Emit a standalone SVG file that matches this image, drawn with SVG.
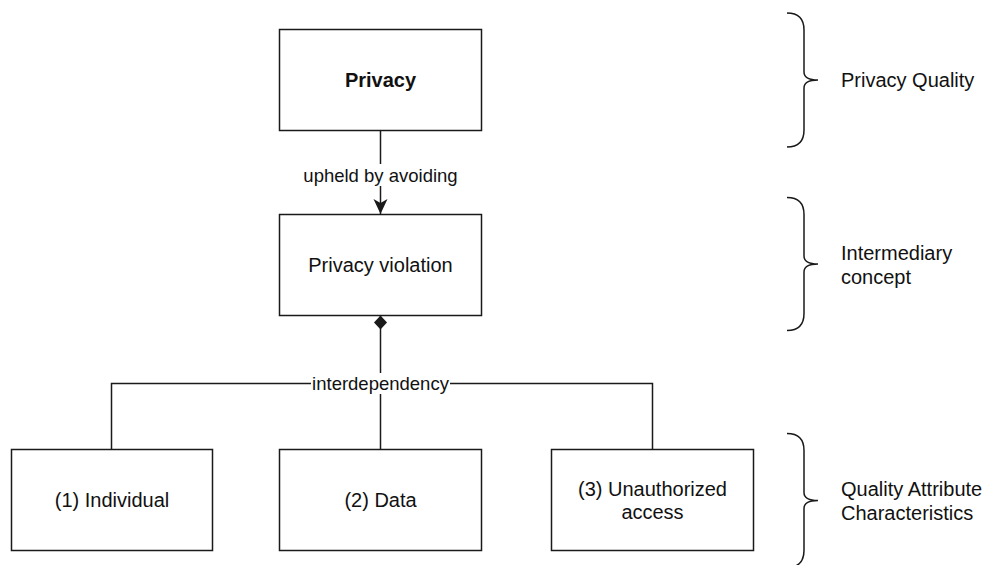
<svg xmlns="http://www.w3.org/2000/svg" width="988" height="565" viewBox="0 0 988 565">
  <style>
    .box { fill: #ffffff; stroke: #1a1a1a; stroke-width: 1.5; }
    .edge { fill: none; stroke: #1a1a1a; stroke-width: 1.5; }
    .brace { fill: none; stroke: #1a1a1a; stroke-width: 1.5; }
    text { font-family: "Liberation Sans", Arial, sans-serif; font-size: 20px; fill: #111111; }
    .c { text-anchor: middle; dominant-baseline: central; }
    .l { text-anchor: start; dominant-baseline: central; }
    .bold { font-weight: bold; }
    .edge-label { font-size: 18.5px; }
    .lbl { fill: #ffffff; stroke: none; }
  </style>
  <defs>
    <marker id="arrow" markerWidth="16" markerHeight="16" refX="15" refY="7" orient="auto" markerUnits="userSpaceOnUse">
      <path d="M0,0 L15,7 L0,14 L4,7 Z" fill="#1a1a1a"/>
    </marker>
    <marker id="diamond" markerWidth="16" markerHeight="14" refX="15" refY="6.5" orient="auto" markerUnits="userSpaceOnUse">
      <path d="M1,6.5 L8,0 L15,6.5 L8,13 Z" fill="#1a1a1a"/>
    </marker>
  </defs>

  <!-- connectors -->
  <g id="connectors">
    <path class="edge" d="M380.5,130.5 L380.5,214" marker-end="url(#arrow)"/>
    <rect class="lbl" x="301" y="164" width="159" height="22"/>
    <text class="c edge-label" x="380.5" y="175">upheld by avoiding</text>

    <path class="edge" d="M380.5,449.5 L380.5,315.5" marker-end="url(#diamond)"/>
    <path class="edge" d="M111.5,449.5 L111.5,383.5 L652.5,383.5 L652.5,449.5"/>
    <rect class="lbl" x="311" y="373" width="139" height="21"/>
    <text class="c edge-label" x="380.5" y="383">interdependency</text>
  </g>

  <!-- nodes -->
  <g id="privacy">
    <rect class="box" x="279.5" y="29.5" width="202" height="101"/>
    <text class="c bold" x="380.5" y="80">Privacy</text>
  </g>
  <g id="privacy-violation">
    <rect class="box" x="279.5" y="214.5" width="202" height="101"/>
    <text class="c" x="380.5" y="265">Privacy violation</text>
  </g>
  <g id="individual">
    <rect class="box" x="11.5" y="449.5" width="201" height="101"/>
    <text class="c" x="112" y="500">(1) Individual</text>
  </g>
  <g id="data">
    <rect class="box" x="279.5" y="449.5" width="202" height="101"/>
    <text class="c" x="380.5" y="500">(2) Data</text>
  </g>
  <g id="unauthorized-access">
    <rect class="box" x="551.5" y="449.5" width="202" height="101"/>
    <text class="c" x="652.5" y="489">(3) Unauthorized</text>
    <text class="c" x="652.5" y="512">access</text>
  </g>

  <!-- level braces -->
  <g id="level-quality">
    <path class="brace" d="M787,13 Q804,13 804,30 L804,72 Q804,80 818,80 Q804,80 804,88 L804,130 Q804,147 787,147"/>
    <text class="l" x="841" y="80">Privacy Quality</text>
  </g>
  <g id="level-intermediary">
    <path class="brace" d="M787,197.5 Q804,197.5 804,214.5 L804,256 Q804,264 818,264 Q804,264 804,272 L804,313.5 Q804,330.5 787,330.5"/>
    <text class="l" x="841" y="253">Intermediary</text>
    <text class="l" x="841" y="277">concept</text>
  </g>
  <g id="level-attributes">
    <path class="brace" d="M787,433.5 Q804,433.5 804,450.5 L804,492.5 Q804,500.5 818,500.5 Q804,500.5 804,508.5 L804,550.5 Q804,567.5 787,567.5"/>
    <text class="l" x="841" y="489">Quality Attribute</text>
    <text class="l" x="841" y="513">Characteristics</text>
  </g>
</svg>
